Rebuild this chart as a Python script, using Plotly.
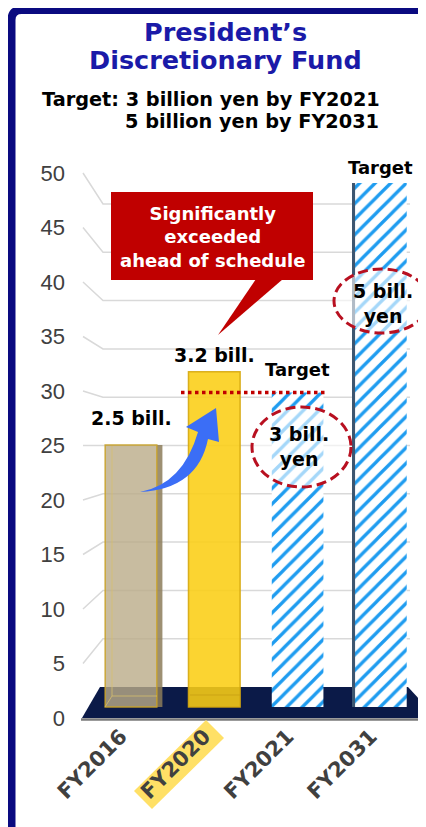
import plotly.graph_objects as go

categories = ["FY2016", "FY2020", "FY2021", "FY2031"]
fund = [25, 32, 30, 50]  # 100 million yen
value_labels = ["2.5 bill.", "3.2 bill.", "", ""]
target_labels = ["", "", "Target", "Target"]
ellipse_labels = ["", "", "3 bill.<br>yen", "5 bill.<br>yen"]
y_ticks = [0, 5, 10, 15, 20, 25, 30, 35, 40, 45, 50]

FONT = "DejaVu Sans"
PAGE = 8                       # body margin of the html page
W, H = 426 - PAGE, 827 - PAGE  # figure size so the page is exactly filled

# plot area in page pixels
L, R, T, B = 66, 426, 150, 719

# fake 3D: three depth planes, each (page pixel of zero, pixels per unit)
FRONT = (718, 10.9)
BAR = (707, 10.48)
BACK = (687, 9.66)
X0, DX = 131, 83.3


def px(x):
    return (x - L) / (R - L)


def py(y):
    return (B - y) / (B - T)


def P(x, y):
    return f"{px(x):.4f},{py(y):.4f}"


def yr(plane):
    z, s = plane
    return [(z - B) / s, (z - T) / s]


def xi(x):
    return (x - X0) / DX


idx = list(range(len(categories)))
actual = [i for i in idx if not target_labels[i]]
target = [i for i in idx if target_labels[i]]

fig = go.Figure()

# back wall grid with the little 3D connectors to the labels (drawn on the front axis)
gx, gy = [], []
for v in y_ticks[1:]:
    back_v = (FRONT[0] - (BACK[0] - BACK[1] * v)) / FRONT[1]
    gx += [xi(83), xi(103), xi(410), None]
    gy += [v, back_v, back_v, None]
fig.add_trace(go.Scatter(x=gx, y=gy, mode="lines",
                         line=dict(color="#d9d9d9", width=1.5), hoverinfo="skip"))

# side faces of the two outer bars
fig.add_trace(go.Bar(x=[idx[0]], y=[fund[0]], yaxis="y2", offset=xi(157), width=0.065,
                     marker=dict(color="rgba(140,124,90,0.85)", line=dict(width=0)),
                     hoverinfo="skip"))
fig.add_trace(go.Bar(x=[idx[3]], y=[fund[3]], yaxis="y2", offset=xi(352) - 3, width=0.06,
                     marker=dict(color="#3d5670", line=dict(width=0)),
                     hoverinfo="skip"))

# actual results: translucent solid boxes
fig.add_trace(go.Bar(
    x=actual, y=[fund[i] for i in actual], yaxis="y2", width=0.62,
    marker=dict(color=["rgba(186,171,136,0.8)", "rgba(250,206,21,0.88)"],
                line=dict(color=["rgba(201,162,42,0.9)", "rgba(214,168,16,0.9)"], width=1.5)),
    hoverinfo="skip"))

# targets: hatched boxes
fig.add_trace(go.Bar(
    x=target, y=[fund[i] for i in target], yaxis="y2", width=0.62,
    marker=dict(color="white", line=dict(width=0),
                pattern=dict(shape="/", fillmode="overlay", fgcolor="#1e9cf0", fgopacity=1,
                             size=11, solidity=0.3)),
    hoverinfo="skip"))

shapes = [
    # frame
    dict(type="path", xref="paper", yref="paper", layer="below",
         path=f"M {P(11.5, 840)} L {P(11.5, 20)} Q {P(11.5, 10)} {P(21.5, 10)} L {P(440, 10)}",
         line=dict(color="#0a0a80", width=8)),
    # floor
    dict(type="path", xref="paper", yref="paper", layer="below",
         path=f"M {P(82, 718)} L {P(100, 687)} L {P(408, 687)} L {P(437, 718)} Z",
         fillcolor="#0b1a48", line=dict(width=0)),
    dict(type="line", xref="paper", yref="paper", layer="below",
         x0=px(81), x1=px(440), y0=py(719.5), y1=py(719.5),
         line=dict(color="#7a7a7a", width=2.5)),
    # highlight behind FY2020 label
    dict(type="path", xref="paper", yref="paper", layer="below",
         path=f"M {P(134, 791)} L {P(206, 720)} L {P(224, 738)} L {P(152, 809)} Z",
         fillcolor="#ffe066", line=dict(width=0)),
    # inner edges of the translucent boxes
    dict(type="path", xref="paper", yref="paper", layer="above",
         path=f"M {P(105, 707)} L {P(112, 696)} L {P(157, 696)} M {P(112, 696)} L {P(112, 446)}",
         line=dict(color="rgba(214,190,110,0.8)", width=1)),
    dict(type="path", xref="paper", yref="paper", layer="above",
         path=f"M {P(190, 695)} L {P(240, 695)}",
         line=dict(color="rgba(200,160,20,0.8)", width=1)),
    # target level dotted line
    dict(type="line", xref="x", yref="y2", layer="above",
         x0=xi(181), x1=xi(328), y0=fund[2], y1=fund[2],
         line=dict(color="#c00000", width=3.5, dash="dot")),
    # blue curved arrow
    dict(type="path", xref="paper", yref="paper", layer="above",
         path=(f"M {P(140, 492)} Q {P(183, 484)} {P(198, 432)} L {P(186, 427)} "
               f"L {P(216, 408)} L {P(219, 442)} L {P(208, 439)} Q {P(198, 489)} {P(140, 492)} Z"),
         fillcolor="#3b6ef6", line=dict(width=0)),
    # callout
    dict(type="rect", xref="paper", yref="paper", layer="above",
         x0=px(111), x1=px(313), y0=py(280), y1=py(192),
         fillcolor="#c00000", line=dict(width=0)),
    dict(type="path", xref="paper", yref="paper", layer="above",
         path=f"M {P(256, 279)} L {P(283, 279)} L {P(218, 335)} Z",
         fillcolor="#c00000", line=dict(width=0)),
    # dashed ellipses
    dict(type="circle", xref="paper", yref="paper", layer="above",
         x0=px(252), x1=px(351), y0=py(487), y1=py(407),
         fillcolor="rgba(255,255,255,0.6)", line=dict(color="#b81020", width=3, dash="10px,5px")),
    dict(type="circle", xref="paper", yref="paper", layer="above",
         x0=px(334), x1=px(429), y0=py(333), y1=py(269),
         fillcolor="rgba(255,255,255,0.6)", line=dict(color="#b81020", width=3, dash="10px,5px")),
]

annotations = [
    dict(text="President’s", x=px(225), y=py(32),
         font=dict(size=25.5, color="#1a1aa8", weight="bold")),
    dict(text="Discretionary Fund", x=px(225), y=py(60),
         font=dict(size=25.5, color="#1a1aa8", weight="bold")),
    dict(text="Target: 3 billion yen by FY2021", x=px(382), y=py(100), xanchor="right",
         font=dict(size=19.3, color="black", weight="bold")),
    dict(text="5 billion yen by FY2031", x=px(381), y=py(122), xanchor="right",
         font=dict(size=19.3, color="black", weight="bold")),
    dict(text="Significantly<br>exceeded<br>ahead of schedule", x=px(212), y=py(237),
         font=dict(size=18, color="white", weight="bold")),
]
for a in annotations:
    a.update(xref="paper", yref="paper", showarrow=False, yanchor="middle")
    a.setdefault("xanchor", "center")
    a["font"]["family"] = FONT

value_shift = [27, 17]
target_shift = [0, 0, 23, 16]
for i in idx:
    if value_labels[i]:
        annotations.append(dict(text=value_labels[i], x=i, y=fund[i], xref="x", yref="y2",
                                yshift=value_shift[i], showarrow=False,
                                xanchor="center", yanchor="middle",
                                font=dict(family=FONT, size=19, color="black", weight="bold")))
    if target_labels[i]:
        annotations.append(dict(text=target_labels[i], x=i, y=fund[i], xref="x", yref="y2",
                                yshift=target_shift[i], showarrow=False,
                                xanchor="center", yanchor="middle",
                                font=dict(family=FONT, size=18, color="black", weight="bold")))
ellipse_pos = {2: (299, 446), 3: (383, 303)}
for i, (ex, ey) in ellipse_pos.items():
    annotations.append(dict(text=ellipse_labels[i], x=px(ex), y=py(ey), xref="paper", yref="paper",
                            showarrow=False, xanchor="center", yanchor="middle",
                            font=dict(family=FONT, size=19, color="black", weight="bold")))

fig.update_layout(
    width=W, height=H,
    margin=dict(l=L - PAGE, r=W - (R - PAGE), t=T - PAGE, b=H - (B - PAGE), pad=0),
    paper_bgcolor="white", plot_bgcolor="rgba(0,0,0,0)",
    font=dict(family=FONT),
    showlegend=False,
    barmode="overlay",
    xaxis=dict(range=[xi(L), xi(R)], tickvals=idx, ticktext=categories, tickangle=-45,
               ticklabelshift=-10,
               tickfont=dict(family=FONT, size=21, color="#404040", weight="bold"),
               showgrid=False, zeroline=False, showline=False, ticks="", automargin=False),
    yaxis=dict(range=yr(FRONT), tickvals=y_ticks,
               tickfont=dict(family="Liberation Sans", size=22, color="#404040"),
               showgrid=False, zeroline=False, showline=False, ticks="", automargin=False),
    yaxis2=dict(range=yr(BAR), overlaying="y", visible=False),
    shapes=shapes,
    annotations=annotations,
)

fig.write_html("out.html")
